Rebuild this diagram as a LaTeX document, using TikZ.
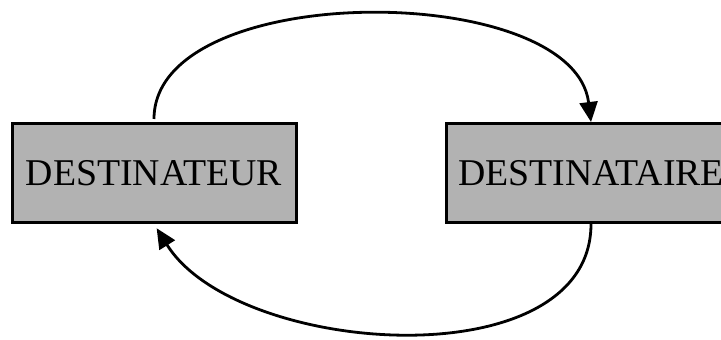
\documentclass[tikz,border=0pt]{standalone}
\usepackage{fontspec}
\setmainfont{Liberation Serif}
\usepackage{xcolor}
\usepackage{tikz}
\usetikzlibrary{arrows.meta,positioning}
\definecolor{boxgray}{HTML}{B2B2B2}

\begin{document}
\begin{tikzpicture}[
 x=0.5pt,y=-0.5pt,
 party/.style={rectangle,draw,line width=1.5pt,fill=boxgray,minimum width=142pt,minimum height=49.5pt,inner sep=0pt,font=\fontsize{18.9}{22}\selectfont},
 arr/.style={-{Triangle[length=10pt,width=9pt]},line width=1.4pt}
]
\path[use as bounding box,clip] (0,0) rectangle (721,340);
\node[party] (dest) at (154,173) {DESTINATEUR};
\node[party,right=73.5pt of dest,minimum width=145pt] (dire) {DESTINATAIRE};

\draw[arr,shorten <=1.5pt] (dest.north) to[out=90,in=97,looseness=0.84] (dire.north);
\draw[arr,shorten >=2.5pt] (dire.south) to[out=-90,in=-58,looseness=0.92] (dest.south);
\end{tikzpicture}
\end{document}
